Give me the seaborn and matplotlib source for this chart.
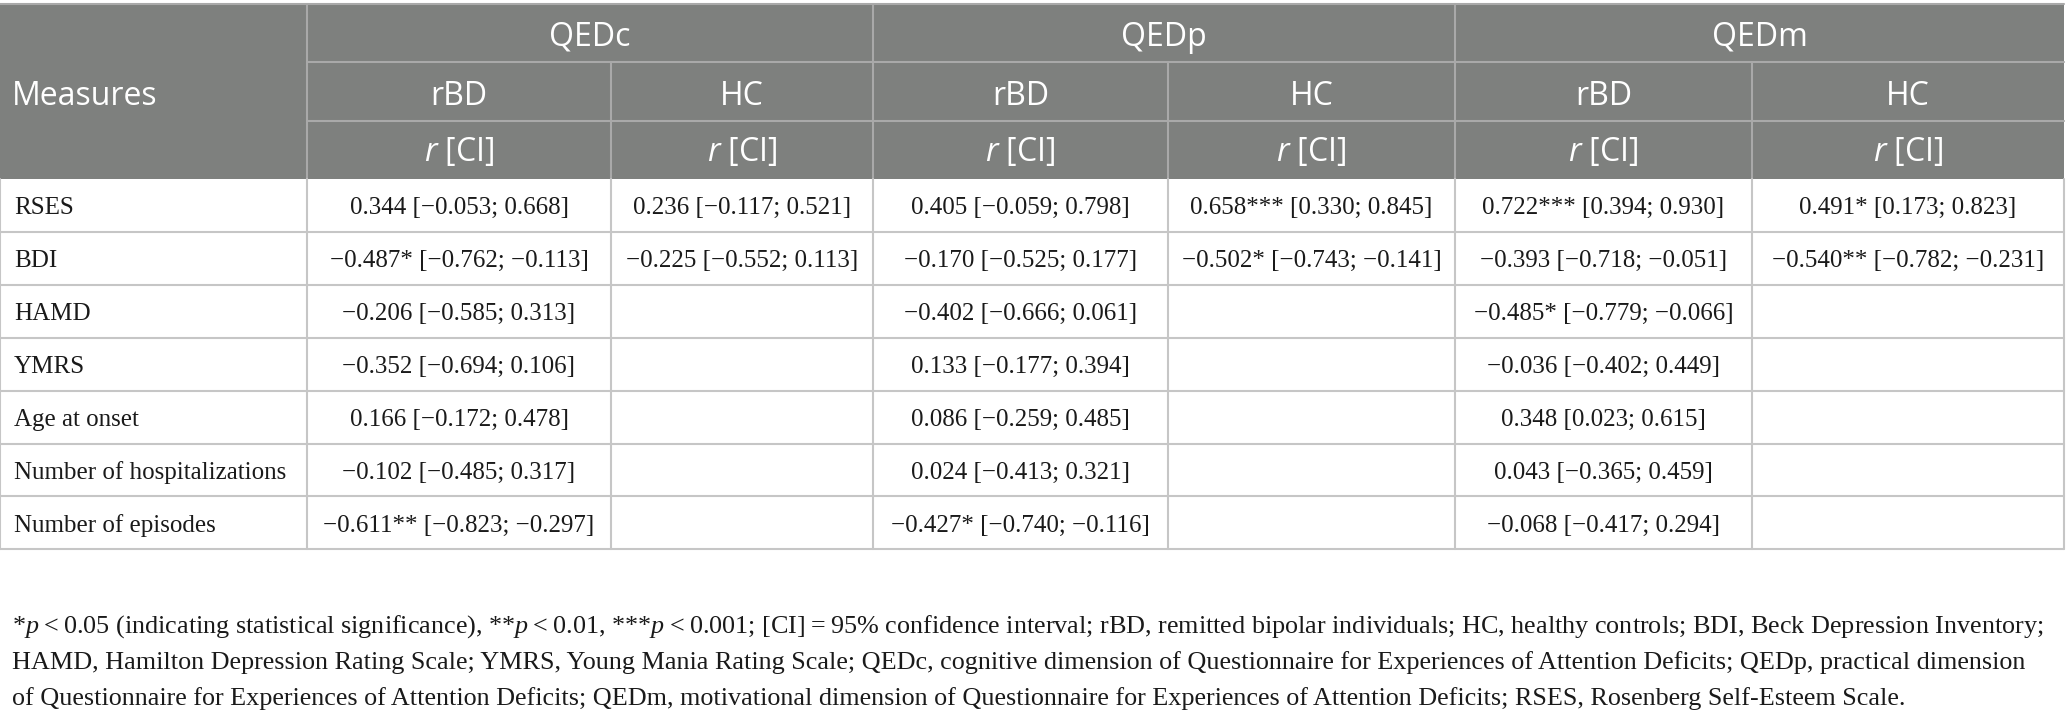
import matplotlib
matplotlib.use("Agg")
import matplotlib.pyplot as plt
from matplotlib.patches import Rectangle
import seaborn as sns

# table content
measures = ["RSES", "BDI", "HAMD", "YMRS", "Age at onset",
            "Number of hospitalizations", "Number of episodes"]
groups = ["QEDc", "QEDp", "QEDm"]
subgroups = ["rBD", "HC"]

qedc_rbd_r = [0.344, -0.487, -0.206, -0.352, 0.166, -0.102, -0.611]
qedc_rbd_ci = [(-0.053, 0.668), (-0.762, -0.113), (-0.585, 0.313), (-0.694, 0.106),
               (-0.172, 0.478), (-0.485, 0.317), (-0.823, -0.297)]
qedc_rbd_sig = ["", "*", "", "", "", "", "**"]

qedc_hc_r = [0.236, -0.225]
qedc_hc_ci = [(-0.117, 0.521), (-0.552, 0.113)]
qedc_hc_sig = ["", ""]

qedp_rbd_r = [0.405, -0.170, -0.402, 0.133, 0.086, 0.024, -0.427]
qedp_rbd_ci = [(-0.059, 0.798), (-0.525, 0.177), (-0.666, 0.061), (-0.177, 0.394),
               (-0.259, 0.485), (-0.413, 0.321), (-0.740, -0.116)]
qedp_rbd_sig = ["", "", "", "", "", "", "*"]

qedp_hc_r = [0.658, -0.502]
qedp_hc_ci = [(0.330, 0.845), (-0.743, -0.141)]
qedp_hc_sig = ["***", "*"]

qedm_rbd_r = [0.722, -0.393, -0.485, -0.036, 0.348, 0.043, -0.068]
qedm_rbd_ci = [(0.394, 0.930), (-0.718, -0.051), (-0.779, -0.066), (-0.402, 0.449),
               (0.023, 0.615), (-0.365, 0.459), (-0.417, 0.294)]
qedm_rbd_sig = ["***", "", "*", "", "", "", ""]

qedm_hc_r = [0.491, -0.540]
qedm_hc_ci = [(0.173, 0.823), (-0.782, -0.231)]
qedm_hc_sig = ["*", "**"]

footnote = [
    "*$p$\u2009<\u20090.05 (indicating statistical significance), **$p$\u2009<\u20090.01, "
    "***$p$\u2009<\u20090.001; [CI]\u2009=\u200995% confidence interval; rBD, remitted bipolar "
    "individuals; HC, healthy controls; BDI, Beck Depression Inventory;",
    "HAMD, Hamilton Depression Rating Scale; YMRS, Young Mania Rating Scale; QEDc, cognitive "
    "dimension of Questionnaire for Experiences of Attention Deficits; QEDp, practical dimension",
    "of Questionnaire for Experiences of Attention Deficits; QEDm, motivational dimension of "
    "Questionnaire for Experiences of Attention Deficits; RSES, Rosenberg Self-Esteem Scale.",
]


def fmt(v):
    return f"{v:.3f}".replace("-", "\u2212")


def cells(r, ci, sig):
    out = []
    for i in range(len(measures)):
        if i < len(r):
            out.append(f"{fmt(r[i])}{sig[i]} [{fmt(ci[i][0])}; {fmt(ci[i][1])}]")
        else:
            out.append("")
    return out


columns = [
    cells(qedc_rbd_r, qedc_rbd_ci, qedc_rbd_sig),
    cells(qedc_hc_r, qedc_hc_ci, qedc_hc_sig),
    cells(qedp_rbd_r, qedp_rbd_ci, qedp_rbd_sig),
    cells(qedp_hc_r, qedp_hc_ci, qedp_hc_sig),
    cells(qedm_rbd_r, qedm_rbd_ci, qedm_rbd_sig),
    cells(qedm_hc_r, qedm_hc_ci, qedm_hc_sig),
]

sns.set_theme(style="white")
plt.rcParams.update({
    "mathtext.fontset": "custom",
    "mathtext.rm": "Liberation Serif",
    "mathtext.it": "Liberation Serif:italic",
    "mathtext.sf": "Open Sans:italic",
})

W, H = 2066, 721
col_edges = [0, 307, 611, 873, 1168, 1455, 1752, 2064]
head_edges = [4, 62, 121, 179]
row_h = 52.9
row_edges = [head_edges[-1] + i * row_h for i in range(len(measures) + 1)]

HEAD_BG = "#7e807e"
HEAD_LINE = "#a9a9a9"
BODY_LINE = "#c6c6c6"
SANS = "Open Sans"
SERIF = "Liberation Serif"

fig = plt.figure(figsize=(W / 100, H / 100), dpi=100)
ax = fig.add_axes([0, 0, 1, 1])
ax.set_xlim(0, W)
ax.set_ylim(H, 0)
ax.axis("off")

# header block
ax.add_patch(Rectangle((col_edges[0], head_edges[0]), col_edges[-1] - col_edges[0],
                       head_edges[-1] - head_edges[0], color=HEAD_BG, lw=0))
lw = 1.5
ax.plot([0, col_edges[-1]], [head_edges[0]] * 2, color=HEAD_LINE, lw=lw)
for y in head_edges[1:3]:
    ax.plot([col_edges[1], col_edges[-1]], [y, y], color=HEAD_LINE, lw=lw)
for j, x in enumerate(col_edges[1:-1], start=1):
    y0 = head_edges[0] if j % 2 == 1 else head_edges[1]
    ax.plot([x, x], [y0, head_edges[-1]], color=HEAD_LINE, lw=lw)

hdr_kw = dict(color="white", fontsize=23, family=SANS, va="center")
ax.text(12, (head_edges[0] + head_edges[-1]) / 2 + 5, "Measures", ha="left", **hdr_kw)
for g, name in enumerate(groups):
    xc = (col_edges[1 + 2 * g] + col_edges[3 + 2 * g]) / 2
    ax.text(xc, (head_edges[0] + head_edges[1]) / 2 + 4, name, ha="center", **hdr_kw)
for j in range(6):
    xc = (col_edges[1 + j] + col_edges[2 + j]) / 2
    ax.text(xc, (head_edges[1] + head_edges[2]) / 2 + 5, subgroups[j % 2], ha="center", **hdr_kw)
    ax.text(xc, (head_edges[2] + head_edges[3]) / 2 + 3, r"$\mathsf{r}$ [CI]", ha="center", **hdr_kw)

# body grid
for y in row_edges[1:]:
    ax.plot([0, col_edges[-1]], [y, y], color=BODY_LINE, lw=lw)
for x in col_edges:
    ax.plot([x, x], [head_edges[-1], row_edges[-1]], color=BODY_LINE, lw=lw)

body_kw = dict(color="#1a1a1a", fontsize=18, family=SERIF, va="center")
for i, m in enumerate(measures):
    yc = (row_edges[i] + row_edges[i + 1]) / 2 + 3
    ax.text(14, yc, m, ha="left", **body_kw)
    for j, col in enumerate(columns):
        xc = (col_edges[1 + j] + col_edges[2 + j]) / 2
        ax.text(xc, yc, col[i], ha="center", **body_kw)

# footnote
for k, line in enumerate(footnote):
    ax.text(12, 633 + k * 36, line, ha="left", va="baseline", color="#1a1a1a",
            fontsize=18.8, family=SERIF)

fig.savefig("out.png", dpi=100)
plt.close(fig)
